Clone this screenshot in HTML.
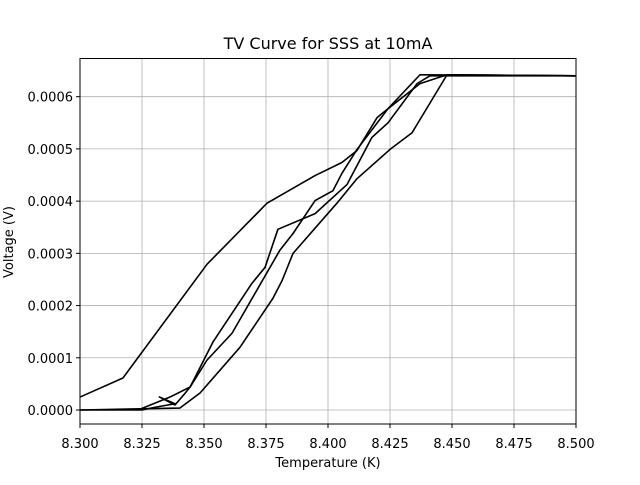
<!DOCTYPE html>
<html><head><meta charset="utf-8"><style>
body{margin:0;background:#fff;}
svg text{font-family:"DejaVu Sans","Liberation Sans",sans-serif;fill:#000;}
</style></head><body>
<svg id="chart" width="640" height="480" xmlns="http://www.w3.org/2000/svg">
<rect width="640" height="480" fill="#fff"/>
<g id="grid"></g>
<g id="series"></g>
<rect x="80" y="58.5" width="496" height="365.5" fill="none" stroke="#000" stroke-width="1"/>
<g id="ticks"></g>
<text x="328" y="49" text-anchor="middle" font-size="16">TV Curve for SSS at 10mA</text>
<text x="328" y="467" text-anchor="middle" font-size="13">Temperature (K)</text>
<text x="13" y="242" text-anchor="middle" font-size="13" transform="rotate(-90 13 242)">Voltage (V)</text>
</svg>
<script>
const xTicks=[8.300,8.325,8.350,8.375,8.400,8.425,8.450,8.475,8.500];
const xTickLabels=["8.300","8.325","8.350","8.375","8.400","8.425","8.450","8.475","8.500"];
const yTicks=[0,0.0001,0.0002,0.0003,0.0004,0.0005,0.0006];
const yTickLabels=["0.0000","0.0001","0.0002","0.0003","0.0004","0.0005","0.0006"];
const curveA=[[8.3,0.0000248],[8.3173,0.0000612],[8.3512,0.000279],[8.3754,0.000396],[8.3948,0.000449],[8.4056,0.000474],[8.4117,0.000497],[8.4198,0.00056],[8.4242,0.000577],[8.4371,0.000642],[8.5,0.00064]];
const curveB=[[8.3234,0],[8.3363,0.0000248],[8.3444,0.000044],[8.3536,0.00013],[8.3694,0.000243],[8.3746,0.000273],[8.3798,0.000346],[8.3948,0.000376],[8.4077,0.000432],[8.4177,0.000522],[8.4242,0.00055],[8.4359,0.000625],[8.4411,0.00064],[8.5,0.00064]];
const curveC=[[8.3,0],[8.325,0],[8.33,0.000005],[8.3383,0.000012],[8.332,0.000025],[8.3383,0.0000096],[8.342,0.00003],[8.3444,0.000044],[8.3512,0.0000955],[8.3613,0.000147],[8.3806,0.000306],[8.3859,0.000338],[8.3948,0.000401],[8.402,0.00042],[8.4056,0.000453],[8.4117,0.000499],[8.4242,0.000577],[8.4371,0.000625],[8.448,0.000642],[8.5,0.00064]];
const curveD=[[8.3,0],[8.3403,0.0000038],[8.3484,0.0000325],[8.3645,0.00012],[8.3778,0.000214],[8.3815,0.000248],[8.3859,0.0003],[8.4036,0.000396],[8.4117,0.000443],[8.425,0.000499],[8.4339,0.000531],[8.448,0.000642],[8.5,0.00064]];
const seriesList=[curveA,curveB,curveC,curveD];
const seriesNames=["curve-a","curve-b","curve-c","curve-d"];

const NS="http://www.w3.org/2000/svg";
const X0=80,X1=576,Y0=58.5,Y1=424;
const xMin=8.3,xMax=8.5;
const PX=522200;
const yTop=(410-58.5)/PX, yBot=(410-424)/PX;
function sx(v){return X0+(v-xMin)/(xMax-xMin)*(X1-X0);}
function sy(v){return Y0+(yTop-v)/(yTop-yBot)*(Y1-Y0);}
const grid=document.getElementById('grid'),ticks=document.getElementById('ticks'),series=document.getElementById('series');
function mk(tag,attrs,parent){const e=document.createElementNS(NS,tag);for(const k in attrs)e.setAttribute(k,attrs[k]);parent.appendChild(e);return e;}
xTicks.forEach((t,i)=>{
  const x=sx(t);
  const g=mk('line',{x1:x,x2:x,y1:Y0,y2:Y1,stroke:'#b0b0b0','stroke-width':0.8},grid);
  
  
  const tk=mk('line',{x1:x,x2:x,y1:Y1,y2:Y1+4,stroke:'#000'},ticks);
  
  
  const tx=mk('text',{x:x,y:Y1+24,'text-anchor':'middle','font-size':13},ticks);
  tx.textContent=xTickLabels[i];
  
  
});
yTicks.forEach((t,i)=>{
  const y=sy(t);
  const g=mk('line',{x1:X0,x2:X1,y1:y,y2:y,stroke:'#b0b0b0','stroke-width':0.8},grid);
  
  
  const tk=mk('line',{x1:X0-4,x2:X0,y1:y,y2:y,stroke:'#000'},ticks);
  
  
  const tx=mk('text',{x:X0-7,y:y+5,'text-anchor':'end','font-size':13},ticks);
  tx.textContent=yTickLabels[i];
  
  
});
seriesList.forEach((s,i)=>{
  const p=mk('polyline',{points:s.map(d=>sx(d[0])+','+sy(d[1])).join(' '),fill:'none',stroke:'#000','stroke-width':1.6,'stroke-linejoin':'round'},series);
  
  
});
</script>
</body></html>
